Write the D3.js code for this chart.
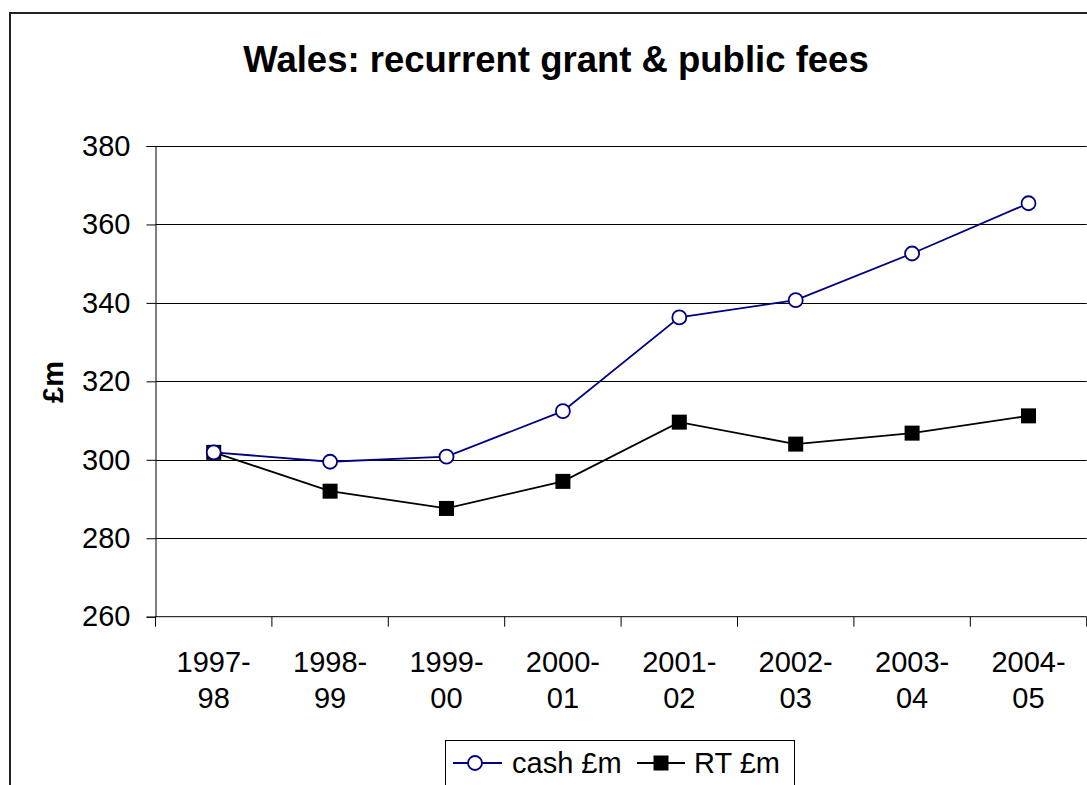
<!DOCTYPE html>
<html>
<head>
<meta charset="utf-8">
<script src="https://cdn.jsdelivr.net/npm/d3@7"></script>
<style>
html,body{margin:0;padding:0;background:#fff;overflow:hidden;}
svg{display:block;font-family:Arial,"Liberation Sans",sans-serif;}
</style>
</head>
<body>
<svg id="chart" width="1087" height="785"></svg>
<script>
const categories = [["1997-","98"],["1998-","99"],["1999-","00"],["2000-","01"],["2001-","02"],["2002-","03"],["2003-","04"],["2004-","05"]];
const cashValues = [301.9, 299.5, 300.8, 312.4, 336.3, 340.7, 352.6, 365.4];
const rtValues   = [301.9, 292.0, 287.6, 294.5, 309.6, 304.0, 306.8, 311.2];
const yTicks = [260, 280, 300, 320, 340, 360, 380];
const seriesNames = ["cash £m", "RT £m"];
const titleText = "Wales: recurrent grant & public fees";
const yTitle = "£m";

(function(){
const svg = d3.select("#chart");
const pLeft = 155.5, pRight = 1086.7, pTop = 146, pBottom = 616.7;
const keys = categories.map(c => c.join(""));

// outer chart border
svg.append("rect").attr("x",10).attr("y",13).attr("width",1092).attr("height",800)
  .attr("fill","#fff").attr("stroke","#222").attr("stroke-width",2);

const x = d3.scaleBand().domain(keys).range([pLeft, pRight]).padding(0);
const y = d3.scaleLinear().domain([260, 380]).range([pBottom, pTop]);

// gridlines
svg.append("g").selectAll("line").data(yTicks.filter(t => t > 260)).join("line")
  .attr("x1", pLeft).attr("x2", pRight)
  .attr("y1", d => Math.round(y(d)) + 0.5).attr("y2", d => Math.round(y(d)) + 0.5)
  .attr("stroke", "#000").attr("stroke-width", 1);

// y axis
const yAxis = svg.append("g").attr("transform", `translate(${pLeft},0)`)
  .call(d3.axisLeft(y).tickValues(yTicks).tickSize(9).tickPadding(16).tickFormat(d3.format("d")));
yAxis.select(".domain").attr("stroke", "#000");
yAxis.selectAll("line").attr("stroke", "#000");
yAxis.selectAll("text").attr("font-size", 29).attr("fill", "#000")
  .attr("font-family", "Arial, 'Liberation Sans', sans-serif");

// x axis
const xAxis = svg.append("g").attr("transform", `translate(0,${pBottom})`);
xAxis.append("line").attr("x1", pLeft).attr("x2", pRight).attr("y1", 0).attr("y2", 0).attr("stroke", "#000");
const bounds = keys.map(k => x(k)).concat([pRight]);
xAxis.selectAll("line.tick").data(bounds).join("line").attr("class","tick")
  .attr("x1", d => d).attr("x2", d => d).attr("y1", 0).attr("y2", 10).attr("stroke", "#000");
const lbl = xAxis.selectAll("text").data(categories).join("text")
  .attr("x", (d,i) => x(keys[i]) + x.bandwidth()/2)
  .attr("text-anchor", "middle").attr("font-size", 29).attr("fill", "#000");
lbl.append("tspan").attr("x", (d,i) => x(keys[i]) + x.bandwidth()/2).attr("y", 55).text(d => d[0]);
lbl.append("tspan").attr("x", (d,i) => x(keys[i]) + x.bandwidth()/2).attr("y", 91).text(d => d[1]);

// lines
const line = d3.line().x((d,i) => x(keys[i]) + x.bandwidth()/2).y(d => y(d));
svg.append("path").datum(rtValues).attr("d", line).attr("fill","none").attr("stroke","#000").attr("stroke-width",1.8);
svg.append("path").datum(cashValues).attr("d", line).attr("fill","none").attr("stroke","#000080").attr("stroke-width",1.8);

// markers
svg.append("g").selectAll("rect").data(rtValues).join("rect")
  .attr("x", (d,i) => x(keys[i]) + x.bandwidth()/2 - 7.5).attr("y", d => y(d) - 7.5)
  .attr("width", 15).attr("height", 15).attr("fill", "#000");
svg.append("g").selectAll("circle").data(cashValues).join("circle")
  .attr("cx", (d,i) => x(keys[i]) + x.bandwidth()/2).attr("cy", d => y(d))
  .attr("r", 7).attr("fill", "#fff").attr("stroke", "#000080").attr("stroke-width", 1.8);

// title
svg.append("text").attr("x", 556).attr("y", 72).attr("text-anchor","middle")
  .attr("font-size", 36.5).attr("font-weight","bold").attr("fill","#000").text(titleText);

// y title
svg.append("text").attr("transform", "translate(63,382) rotate(-90)").attr("text-anchor","middle")
  .attr("font-size", 29).attr("font-weight","bold").attr("fill","#000").text(yTitle);

// legend
const lg = svg.append("g");
lg.append("rect").attr("x",445.5).attr("y",740.5).attr("width",349).attr("height",60)
  .attr("fill","#fff").attr("stroke","#000").attr("stroke-width",1);
const ly = 763;
lg.append("line").attr("x1",453).attr("x2",502).attr("y1",ly).attr("y2",ly).attr("stroke","#000080").attr("stroke-width",2);
lg.append("circle").attr("cx",475).attr("cy",ly).attr("r",7).attr("fill","#fff").attr("stroke","#000080").attr("stroke-width",1.8);
lg.append("text").attr("x",512).attr("y",ly+10).attr("font-size",29).attr("fill","#000").text(seriesNames[0]);
lg.append("line").attr("x1",637).attr("x2",685).attr("y1",ly).attr("y2",ly).attr("stroke","#000").attr("stroke-width",2);
lg.append("rect").attr("x",661-7.5).attr("y",ly-7.5).attr("width",15).attr("height",15).attr("fill","#000");
lg.append("text").attr("x",694).attr("y",ly+10).attr("font-size",29).attr("fill","#000").text(seriesNames[1]);
})();
</script>
</body>
</html>
